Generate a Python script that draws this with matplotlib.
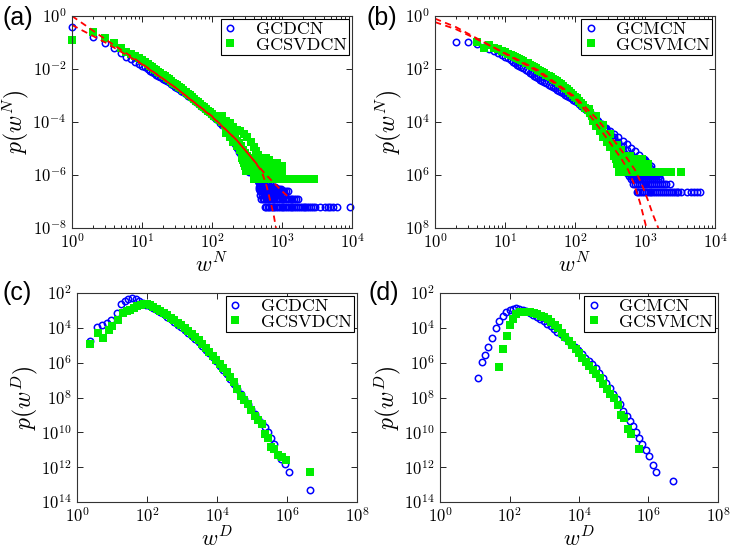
import matplotlib
matplotlib.use("Agg")
import matplotlib.pyplot as plt
import numpy as np
from matplotlib.ticker import LogLocator, NullLocator, NullFormatter

plt.rcParams["mathtext.fontset"] = "cm"

BLUE = "#0000ff"
GREEN = "#00ee00"
RED = "#ff0000"

# ---------------- panel (a): node weight, GCDCN / GCSVDCN ----------------
a_w = [1, 2, 3, 4, 5, 6, 7, 8, 9, 10, 11, 12, 13, 14, 15, 16, 17, 18,
       20, 21, 23, 24, 26, 28, 30, 32, 34, 36, 39, 42, 45, 48, 51, 55, 59, 63, 67, 72,
       77, 82, 88, 94, 100, 107, 115, 123, 132, 141, 151, 162, 173, 185, 198, 212, 227,
       243, 260, 278, 298, 319, 341]
a_gcdcn_logp = [-0.40, -0.78, -1.03, -1.22, -1.38, -1.53, -1.64, -1.72, -1.80, -1.87,
                -1.94, -2.00, -2.06, -2.11, -2.16, -2.21, -2.25, -2.29,
                -2.37, -2.41, -2.47, -2.50, -2.56, -2.62, -2.67, -2.72, -2.77, -2.82,
                -2.88, -2.94, -3.00, -3.06, -3.11, -3.17, -3.23, -3.29, -3.35, -3.42,
                -3.48, -3.54, -3.60, -3.67, -3.73, -3.80, -3.87, -3.94, -4.02, -4.10,
                -4.20, -4.32, -4.44, -4.57, -4.70, -4.84, -4.98, -5.12, -5.26, -5.42,
                -5.60, -5.78, -5.90]
a_gcsvdcn_logp = [-0.91, -0.59, -0.84, -1.03, -1.20, -1.35, -1.44, -1.52, -1.60, -1.67,
                  -1.75, -1.82, -1.88, -1.94, -2.00, -2.05, -2.10, -2.14,
                  -2.22, -2.26, -2.34, -2.38, -2.45, -2.51, -2.57, -2.62, -2.67, -2.72,
                  -2.81, -2.87, -2.93, -2.99, -3.05, -3.12, -3.19, -3.25, -3.31, -3.38,
                  -3.44, -3.50, -3.57, -3.63, -3.70, -3.76, -3.82, -3.88, -3.94, -4.00,
                  -4.10, -4.20, -4.30, -4.40, -4.50, -4.60, -4.70, -4.80, -4.92, -5.05,
                  -5.18, -5.30, -5.40]
a_gcsvdcn_upper_w = [141, 158, 178, 200, 224, 251, 282, 316, 355, 398, 427, 457]
a_gcsvdcn_upper_logp = [-3.78, -3.95, -4.05, -4.17, -4.30, -4.35, -4.45, -4.55, -4.75,
                        -4.93, -5.10, -5.25]
a_gcsvdcn_lower_w = [158, 178, 200, 224, 251, 282, 295]
a_gcsvdcn_lower_logp = [-4.40, -4.55, -4.75, -4.90, -5.05, -5.30, -5.45]

a_gcdcn_tail_logp = [-5.97, -6.22, -6.32, -6.44, -6.52, -6.62, -6.74, -6.92, -7.22]
a_gcdcn_tail_w = [
    [390, 420, 450, 480, 510, 545, 580, 600],
    [460, 475, 490, 505, 520, 540, 560],
    [465, 480, 500, 520, 540, 560, 585, 610, 640, 670],
    [470, 490, 510, 530, 555, 580, 605, 630, 660, 690, 720, 760, 800],
    [475, 500, 525, 550, 580, 610, 640, 670, 700, 740, 780, 820, 870, 920, 970],
    [480, 505, 530, 560, 590, 620, 650, 690, 730, 770, 810, 860, 910, 960, 1020, 1080,
     1150, 1220],
    [490, 515, 545, 575, 610, 645, 680, 720, 760, 800, 850, 900, 950, 1000, 1060, 1120],
    [500, 530, 560, 590, 625, 660, 700, 740, 780, 830, 880, 930, 990, 1050, 1110, 1180,
     1250, 1330, 1410, 1500, 1600, 1710],
    [571, 600, 630, 660, 700, 740, 780, 830, 880, 930, 990, 1050, 1110, 1180, 1250, 1330,
     1410, 1500, 1600, 1700, 1800, 1910, 2030, 2160, 2300, 2450, 2600, 2800, 2950, 3470,
     4070, 4500, 4900, 5370, 6030, 9300],
]
a_gcsvdcn_tail_logp = [-5.37, -5.45, -5.55, -5.67, -5.85, -6.15]
a_gcsvdcn_tail_w = [
    [265, 280, 295, 310, 325, 340, 360, 380, 400, 420, 445, 470, 500, 530, 565, 600],
    [275, 290, 305, 320, 340, 360, 380, 400, 425, 450, 475, 505, 535, 570, 610, 650],
    [290, 305, 320, 340, 360, 380, 400, 425, 450, 480, 510, 540, 575, 610, 650, 690, 740,
     790, 840],
    [300, 320, 340, 360, 380, 400, 425, 450, 480, 510, 540, 575, 610, 650, 690, 730, 780,
     830, 880, 930, 990],
    [310, 330, 350, 370, 390, 415, 440, 470, 500, 530, 560, 600, 640, 680, 720, 770, 820,
     870, 930, 990],
    [400, 420, 445, 470, 500, 530, 560, 600, 640, 680, 720, 770, 820, 870, 930, 990, 1050,
     1120, 1190, 1270, 1350, 1440, 1530, 1630, 1740, 1810, 2250, 2870],
]
a_fit1_w = [1, 3, 10, 30, 100, 225, 390, 510, 600, 675, 760, 820]
a_fit1_logp = [0.0, -0.88, -1.80, -2.70, -3.80, -4.68, -5.43, -5.85, -6.40, -6.94, -7.50, -8.0]
a_fit2_w = [1, 3, 10, 30, 100, 225, 390, 540, 800, 1050, 1300]
a_fit2_logp = [-0.34, -1.00, -1.82, -2.70, -3.78, -4.68, -5.43, -5.88, -6.35, -6.66, -6.88]

# ---------------- panel (b): node weight, GCMCN / GCSVMCN ----------------
b_gcmcn_w = [2, 3, 4, 5, 6, 7, 8, 9, 10, 11, 12, 13, 14, 15, 16, 17, 18,
             20, 21, 23, 24, 26, 28, 30, 32, 34, 36, 39, 42, 45, 48, 51, 55, 59, 63, 67, 72,
             77, 82, 88, 94, 100, 107, 115, 123, 132, 141, 151, 162, 173, 185, 198, 212, 227,
             243, 260, 278, 298, 319, 341, 365, 390, 418, 447, 478, 512, 548]
b_gcmcn_logp = [-0.98, -0.98, -1.07, -1.17, -1.25, -1.33, -1.40, -1.47, -1.53, -1.60, -1.67,
                -1.73, -1.79, -1.84, -1.89, -1.93, -1.97,
                -2.05, -2.09, -2.16, -2.19, -2.25, -2.30, -2.35, -2.40, -2.44, -2.48,
                -2.54, -2.59, -2.64, -2.68, -2.73, -2.78, -2.83, -2.87, -2.92, -2.97,
                -3.02, -3.06, -3.11, -3.16, -3.21, -3.26, -3.31, -3.38, -3.45, -3.52,
                -3.60, -3.68, -3.76, -3.84, -3.91, -3.98, -4.06, -4.14, -4.23, -4.32,
                -4.41, -4.50, -4.60, -4.70, -4.80, -4.90, -5.00, -5.10, -5.20, -5.30]
b_gcmcn_mid_w = [240, 275, 316, 363, 417, 479, 550, 631, 724, 832]
b_gcmcn_mid_logp = [-4.12, -4.28, -4.42, -4.58, -4.74, -4.90, -5.07, -5.22, -5.38, -5.50]
b_gcmcn_edge_w = [158, 182, 209, 240, 275, 316, 363, 417, 479, 550, 631, 724, 832, 955,
                  1096, 1202]
b_gcmcn_edge_logp = [-3.55, -3.75, -3.92, -4.08, -4.22, -4.33, -4.45, -4.57, -4.70, -4.84,
                     -4.97, -5.10, -5.25, -5.40, -5.55, -5.65]
b_gcsvmcn_w = [4, 5, 6, 7, 8, 9, 10, 11, 12, 13, 14, 15, 16, 17, 18,
               20, 21, 23, 24, 26, 28, 30, 32, 34, 36, 39, 42, 45, 48, 51, 55, 59, 63, 67, 72,
               77, 82, 88, 94, 100, 107, 115, 123, 132, 141, 151, 162, 173, 185, 198, 212,
               227, 243, 260, 278, 298, 319, 341, 365, 390, 418]
b_gcsvmcn_logp = [-0.99, -1.19, -1.10, -1.20, -1.26, -1.31, -1.37, -1.42, -1.47, -1.51, -1.55,
                  -1.59, -1.63, -1.66, -1.70,
                  -1.76, -1.79, -1.85, -1.88, -1.93, -1.98, -2.03, -2.07, -2.11, -2.15,
                  -2.21, -2.26, -2.31, -2.36, -2.41, -2.47, -2.53, -2.58, -2.64, -2.71,
                  -2.77, -2.83, -2.90, -2.97, -3.04, -3.11, -3.20, -3.28, -3.37, -3.46,
                  -3.56, -3.66, -3.76, -3.87, -3.98, -4.09, -4.20, -4.32, -4.44, -4.56,
                  -4.68, -4.80, -4.92, -5.04, -5.16, -5.28]
b_gcsvmcn_upper_w = [158, 200, 251, 316, 398, 447]
b_gcsvmcn_upper_logp = [-3.50, -3.78, -4.10, -4.45, -4.85, -5.05]
b_gcsvmcn_lower_w = [178, 200, 224, 251, 282, 316, 355, 398]
b_gcsvmcn_lower_logp = [-3.95, -4.15, -4.35, -4.55, -4.75, -4.95, -5.15, -5.30]

b_gcmcn_tail_logp = [-5.43, -5.52, -5.63, -5.73, -5.86, -5.94, -6.03, -6.16, -6.33, -6.63]
b_gcmcn_tail_w = [
    [470, 500, 530, 560, 600, 640, 680, 720, 770, 820, 870, 930, 990],
    [490, 520, 550, 580, 620, 660, 700, 750, 800, 850, 910, 970, 1030],
    [500, 530, 560, 600, 640, 680, 720, 770, 820, 870, 930, 990, 1060, 1120],
    [520, 550, 590, 630, 670, 710, 760, 810, 860, 920, 980, 1040, 1110, 1180],
    [540, 570, 610, 650, 690, 740, 790, 840, 890, 950, 1010, 1080, 1150, 1230, 1300],
    [560, 600, 640, 680, 720, 770, 820, 870, 930, 990, 1060, 1130, 1200, 1280, 1400],
    [590, 630, 670, 710, 760, 810, 860, 920, 980, 1040, 1110, 1180, 1260, 1350, 1450, 1580],
    [630, 670, 710, 760, 810, 860, 920, 980, 1040, 1110, 1180, 1260, 1350, 1450, 1550, 1660],
    [680, 720, 770, 820, 870, 930, 990, 1050, 1120, 1190, 1270, 1350, 1440, 1540, 1640,
     1750, 1870, 2000, 2280],
    [760, 800, 850, 900, 960, 1020, 1090, 1160, 1230, 1310, 1400, 1490, 1590, 1690, 1800,
     1920, 2050, 2180, 2330, 2480, 2650, 2820, 3000, 3300, 4000, 4570, 5000, 5500, 6100],
]
b_gcsvmcn_tail_logp = [-5.28, -5.41, -5.58, -5.88]
b_gcsvmcn_tail_w = [
    [360, 385, 410, 440, 470, 500, 530, 570, 610],
    [380, 405, 430, 460, 490, 520, 560, 600, 640, 690, 740, 790, 850, 900],
    [400, 425, 455, 485, 520, 555, 590, 630, 680, 730, 780, 830, 890, 950, 1020, 1120],
    [430, 460, 490, 520, 560, 600, 640, 680, 730, 780, 830, 890, 950, 1020, 1090, 1160,
     1240, 1330, 1420, 1520, 1630, 1740, 1860, 1990, 2130, 2350, 3300],
]
b_fit1_w = [1, 2, 4, 10, 30, 100, 183, 300, 450, 575, 700, 850, 1050]
b_fit1_logp = [-0.10, -0.42, -0.85, -1.42, -2.10, -3.10, -3.92, -4.70, -5.35, -5.81, -6.35,
               -7.05, -8.0]
b_fit2_w = [1, 2, 4, 10, 30, 100, 213, 350, 500, 720, 900, 1100, 1300, 1550]
b_fit2_logp = [-0.23, -0.50, -0.88, -1.40, -2.05, -3.05, -3.92, -4.65, -5.20, -5.81, -6.35,
               -6.95, -7.50, -8.0]

# ---------------- panel (c): link weight, GCDCN / GCSVDCN ----------------
c_gcdcn_logw = [0.36, 0.56, 0.70, 0.85, 0.97, 1.13, 1.26, 1.37, 1.47, 1.58, 1.68, 1.78, 1.88,
                1.98, 2.08, 2.18, 2.28, 2.38, 2.48, 2.58, 2.68, 2.78, 2.88, 2.98, 3.08, 3.18,
                3.28, 3.38, 3.48, 3.58, 3.68, 3.78, 3.88, 3.98, 4.08, 4.18, 4.28, 4.38, 4.48,
                4.58, 4.68, 4.78, 4.88, 4.98, 5.08, 5.18, 5.28, 5.37, 5.46, 5.55, 5.64, 5.73,
                5.84, 5.94, 6.06, 6.66]
c_gcdcn_logp = [-4.75, -3.95, -3.85, -3.75, -3.55, -3.15, -2.65, -2.45, -2.37, -2.27, -2.32,
                -2.45, -2.58, -2.68, -2.75, -2.86, -2.98, -3.10, -3.23, -3.37, -3.51, -3.66,
                -3.81, -3.97, -4.13, -4.30, -4.47, -4.65, -4.84, -5.04, -5.25, -5.47, -5.70,
                -5.92, -6.17, -6.41, -6.66, -6.92, -7.20, -7.50, -7.80, -8.10, -8.40, -8.68,
                -8.95, -9.22, -9.45, -9.68, -10.0, -10.3, -10.65, -11.3, -11.55, -11.82,
                -12.26, -13.32]
c_gcsvdcn_logw = [0.36, 0.59, 0.75, 0.90, 1.01, 1.16, 1.32, 1.42, 1.52, 1.62, 1.72, 1.82, 1.92,
                  2.00, 2.08, 2.18, 2.28, 2.38, 2.48, 2.58, 2.68, 2.78, 2.88, 2.98, 3.08, 3.18,
                  3.28, 3.38, 3.48, 3.58, 3.68, 3.78, 3.88, 3.98, 4.08, 4.18, 4.28, 4.38, 4.48,
                  4.58, 4.68, 4.78, 4.88, 4.98, 5.08, 5.18, 5.28, 5.37, 5.46, 5.55, 5.64, 5.75,
                  5.85, 5.97, 6.66]
c_gcsvdcn_logp = [-4.93, -4.28, -4.60, -4.13, -3.90, -3.55, -3.17, -3.05, -2.95, -2.86, -2.77,
                  -2.69, -2.63, -2.62, -2.68, -2.78, -2.90, -3.02, -3.15, -3.28, -3.42, -3.56,
                  -3.71, -3.86, -4.01, -4.17, -4.34, -4.52, -4.71, -4.92, -5.14, -5.36, -5.60,
                  -5.85, -6.10, -6.32, -6.55, -6.80, -7.10, -7.50, -7.90, -8.15, -8.40, -8.70,
                  -9.07, -9.30, -9.50, -10.1, -10.35, -10.85, -10.95, -11.3, -11.44, -11.56,
                  -12.3]

# ---------------- panel (d): link weight, GCMCN / GCSVMCN ----------------
d_gcmcn_logw = [1.10, 1.20, 1.30, 1.39, 1.50, 1.61, 1.71, 1.80, 1.90, 2.00, 2.09, 2.19, 2.28,
                2.38, 2.48, 2.58, 2.68, 2.78, 2.88, 2.98, 3.08, 3.18, 3.28, 3.38, 3.48, 3.58,
                3.68, 3.78, 3.88, 3.98, 4.08, 4.18, 4.28, 4.38, 4.48, 4.58, 4.68, 4.78, 4.88,
                4.98, 5.08, 5.18, 5.28, 5.38, 5.47, 5.56, 5.65, 5.73, 5.82, 5.92, 6.02, 6.12,
                6.21, 6.71]
d_gcmcn_logp = [-6.90, -5.95, -5.56, -5.12, -4.60, -3.99, -3.59, -3.30, -3.09, -2.98, -2.90,
                -2.88, -2.92, -2.98, -3.06, -3.15, -3.26, -3.38, -3.50, -3.63, -3.77, -3.92,
                -4.07, -4.22, -4.38, -4.54, -4.71, -4.90, -5.10, -5.30, -5.53, -5.73, -5.93,
                -6.10, -6.30, -6.58, -6.88, -7.18, -7.48, -7.78, -8.10, -8.40, -8.75, -9.05,
                -9.35, -9.65, -9.98, -10.3, -10.68, -11.02, -11.35, -11.9, -12.3, -12.82]
d_gcsvmcn_logw = [1.71, 1.80, 1.92, 2.01, 2.11, 2.20, 2.30, 2.40, 2.50, 2.60, 2.70, 2.80, 2.90,
                  3.00, 3.10, 3.20, 3.30, 3.40, 3.50, 3.60, 3.70, 3.80, 3.90, 4.00, 4.10, 4.20,
                  4.30, 4.40, 4.50, 4.60, 4.70, 4.80, 4.90, 5.00, 5.13, 5.21, 5.30, 5.40, 5.50,
                  5.73]
d_gcsvmcn_logp = [-6.24, -5.22, -4.45, -3.84, -3.49, -3.21, -3.11, -3.07, -3.08, -3.10, -3.15,
                  -3.22, -3.30, -3.40, -3.52, -3.66, -3.82, -4.02, -4.27, -4.53, -4.78, -4.98,
                  -5.22, -5.47, -5.72, -5.97, -6.20, -6.43, -6.65, -6.90, -7.20, -7.50, -7.80,
                  -8.05, -8.44, -9.00, -9.20, -9.78, -10.1, -10.98]


def circles(ax, w, logp, label=None):
    return ax.plot(w, 10.0 ** np.asarray(logp), "o", ls="none", ms=4.6, mfc="none",
                   mec=BLUE, mew=1.1, clip_on=False, label=label)[0]


def squares(ax, w, logp, label=None):
    return ax.plot(w, 10.0 ** np.asarray(logp), "s", ls="none", ms=5.8, mfc=GREEN,
                   mec=GREEN, mew=0, clip_on=False, label=label)[0]


def fit(ax, w, logp):
    ax.plot(w, 10.0 ** np.asarray(logp), color=RED, lw=1.3, ls=(0, (3.5, 2.5)))


def style(ax, xexp, yexp, ylabels, xname, yname, minor_x):
    ax.set_xscale("log")
    ax.set_yscale("log")
    ax.set_xlim(10.0 ** xexp[0], 10.0 ** xexp[-1])
    ax.set_ylim(10.0 ** yexp[-1], 10.0 ** yexp[0])
    ax.set_xticks([10.0 ** e for e in xexp])
    ax.set_xticklabels([r"$10^{%d}$" % e for e in xexp])
    ax.set_yticks([10.0 ** e for e in yexp])
    ax.set_yticklabels(ylabels)
    if minor_x:
        ax.xaxis.set_minor_locator(LogLocator(base=10, subs=np.arange(2, 10), numticks=20))
        ax.xaxis.set_minor_formatter(NullFormatter())
    else:
        ax.xaxis.set_minor_locator(NullLocator())
    ax.yaxis.set_minor_locator(NullLocator())
    ax.tick_params(which="both", direction="in", top=True, right=True, width=0.6,
                   labelsize=12, pad=4)
    ax.tick_params(which="major", length=4)
    ax.tick_params(which="minor", length=2)
    for s in ax.spines.values():
        s.set_linewidth(0.8)
        s.set_color("#333333")
    ax.set_xlabel(xname, fontsize=16, labelpad=0)
    ax.set_ylabel(yname, fontsize=17, labelpad=0)


def legend(ax, handles, labels):
    leg = ax.legend(handles, labels, loc="upper right", prop={"family": "cmr10", "size": 13},
                    frameon=True, fancybox=False, framealpha=1, edgecolor="black",
                    handlelength=0.8, handletextpad=1.0, borderpad=0.15, labelspacing=0.0,
                    borderaxespad=0.15, numpoints=1)
    leg.get_frame().set_linewidth(0.8)


fig = plt.figure(figsize=(7.34, 5.49), dpi=100)
ax_a = fig.add_axes([72 / 734, 1 - 228 / 549, 280 / 734, 212 / 549])
ax_b = fig.add_axes([435 / 734, 1 - 228 / 549, 280 / 734, 212 / 549])
ax_c = fig.add_axes([77 / 734, 1 - 502 / 549, 280 / 734, 209 / 549])
ax_d = fig.add_axes([440 / 734, 1 - 502 / 549, 278 / 734, 209 / 549])

# (a)
h1 = circles(ax_a, a_w, a_gcdcn_logp)
for lv, ws in zip(a_gcdcn_tail_logp, a_gcdcn_tail_w):
    circles(ax_a, ws, [lv] * len(ws))
h2 = squares(ax_a, a_w, a_gcsvdcn_logp)
squares(ax_a, a_gcsvdcn_upper_w, a_gcsvdcn_upper_logp)
squares(ax_a, a_gcsvdcn_lower_w, a_gcsvdcn_lower_logp)
for lv, ws in zip(a_gcsvdcn_tail_logp, a_gcsvdcn_tail_w):
    squares(ax_a, ws, [lv] * len(ws))
fit(ax_a, a_fit1_w, a_fit1_logp)
fit(ax_a, a_fit2_w, a_fit2_logp)
style(ax_a, [0, 1, 2, 3, 4], [0, -2, -4, -6, -8],
      [r"$10^{0}$", r"$10^{-2}$", r"$10^{-4}$", r"$10^{-6}$", r"$10^{-8}$"],
      r"$w^N$", r"$p(w^N)$", True)
legend(ax_a, [h1, h2], ["GCDCN", "GCSVDCN"])

# (b)
h1 = circles(ax_b, b_gcmcn_w, b_gcmcn_logp)
circles(ax_b, b_gcmcn_mid_w, b_gcmcn_mid_logp)
circles(ax_b, b_gcmcn_edge_w, b_gcmcn_edge_logp)
for lv, ws in zip(b_gcmcn_tail_logp, b_gcmcn_tail_w):
    circles(ax_b, ws, [lv] * len(ws))
h2 = squares(ax_b, b_gcsvmcn_w, b_gcsvmcn_logp)
squares(ax_b, b_gcsvmcn_upper_w, b_gcsvmcn_upper_logp)
squares(ax_b, b_gcsvmcn_lower_w, b_gcsvmcn_lower_logp)
for lv, ws in zip(b_gcsvmcn_tail_logp, b_gcsvmcn_tail_w):
    squares(ax_b, ws, [lv] * len(ws))
fit(ax_b, b_fit1_w, b_fit1_logp)
fit(ax_b, b_fit2_w, b_fit2_logp)
style(ax_b, [0, 1, 2, 3, 4], [0, -2, -4, -6, -8],
      [r"$10^{0}$", r"$10^{2}$", r"$10^{4}$", r"$10^{6}$", r"$10^{8}$"],
      r"$w^N$", r"$p(w^N)$", True)
legend(ax_b, [h1, h2], ["GCMCN", "GCSVMCN"])

# (c)
big_y = [-2, -4, -6, -8, -10, -12, -14]
big_labels = [r"$10^{%d}$" % (-e) for e in big_y]
h1 = circles(ax_c, 10.0 ** np.asarray(c_gcdcn_logw), c_gcdcn_logp)
h2 = squares(ax_c, 10.0 ** np.asarray(c_gcsvdcn_logw), c_gcsvdcn_logp)
style(ax_c, [0, 2, 4, 6, 8], big_y, big_labels, r"$w^D$", r"$p(w^D)$", False)
legend(ax_c, [h1, h2], ["GCDCN", "GCSVDCN"])

# (d)
h1 = circles(ax_d, 10.0 ** np.asarray(d_gcmcn_logw), d_gcmcn_logp)
h2 = squares(ax_d, 10.0 ** np.asarray(d_gcsvmcn_logw), d_gcsvmcn_logp)
style(ax_d, [0, 2, 4, 6, 8], big_y, big_labels, r"$w^D$", r"$p(w^D)$", False)
legend(ax_d, [h1, h2], ["GCMCN", "GCSVMCN"])

for txt, x, y in [("(a)", 3, 18), ("(b)", 367, 18), ("(c)", 2, 293), ("(d)", 368, 293)]:
    fig.text(x / 734, 1 - y / 549, txt, fontsize=18, family="Liberation Sans",
             ha="left", va="center")

fig.savefig("out.png", dpi=100)
